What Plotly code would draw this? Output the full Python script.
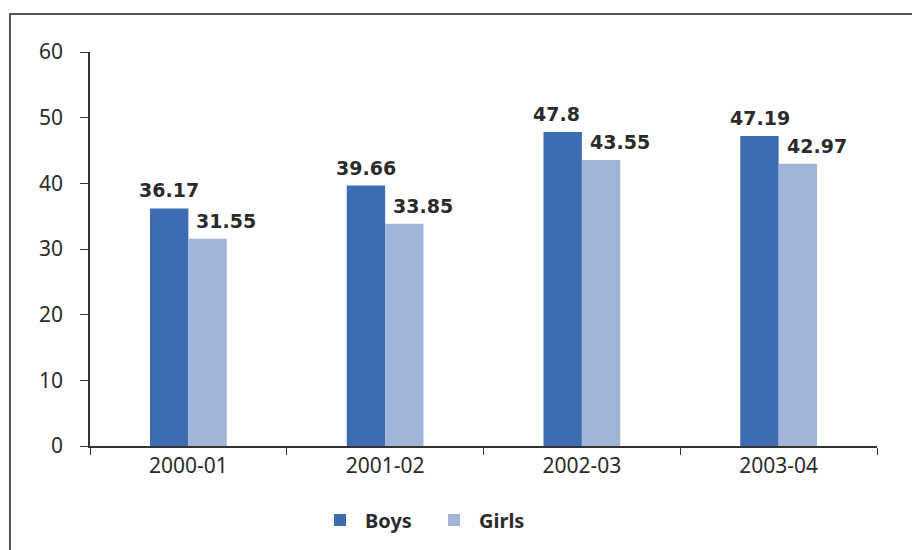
import plotly.graph_objects as go

categories = ["2000-01", "2001-02", "2002-03", "2003-04"]
boys = [36.17, 39.66, 47.8, 47.19]
girls = [31.55, 33.85, 43.55, 42.97]
y_ticks = [0, 10, 20, 30, 40, 50, 60]

BOYS_C = "#3D6CB1"
GIRLS_C = "#A0B5D8"
TXT = "#2b2b2b"

fig = go.Figure()
fig.add_trace(go.Bar(name="<b>Boys</b>", x=categories, y=boys, marker=dict(color=BOYS_C, line=dict(width=0))))
fig.add_trace(go.Bar(name="<b>Girls</b>", x=categories, y=girls, marker=dict(color=GIRLS_C, line=dict(width=0))))

annotations = []
for c, b, g in zip(categories, boys, girls):
    annotations.append(dict(x=c, y=b, xref="x", yref="y", text=f"<b>{b:g}</b>", showarrow=False,
                            xanchor="left", yanchor="middle", xshift=-51, yshift=18,
                            font=dict(family="DejaVu Sans", size=19, color=TXT)))
    annotations.append(dict(x=c, y=g, xref="x", yref="y", text=f"<b>{g:g}</b>", showarrow=False,
                            xanchor="left", yanchor="middle", xshift=6, yshift=18,
                            font=dict(family="DejaVu Sans", size=19, color=TXT)))

fig.update_layout(
    width=920, height=550,
    margin=dict(l=82, r=51, t=44, b=112, autoexpand=False),
    paper_bgcolor="white", plot_bgcolor="white",
    barmode="group", bargap=0.61, bargroupgap=0,
    font=dict(family="Noto Sans", size=20, color=TXT),
    showlegend=True,
    legend=dict(orientation="h", x=(307 - 82) / 787, y=-0.188, xanchor="left", yanchor="middle",
                font=dict(family="Noto Sans", size=20, color=TXT),
                itemsizing="constant", traceorder="normal", itemwidth=40,
                entrywidth=59, entrywidthmode="pixels"),
    annotations=annotations,
    shapes=[dict(type="rect", xref="paper", yref="paper",
                 x0=-0.1017, x1=1.07, y0=-0.29, y1=1.0964,
                 line=dict(color="#555555", width=2), fillcolor="rgba(0,0,0,0)", layer="below")],
)
fig.update_xaxes(type="category", showline=True, linecolor="#333333", linewidth=1.5, ticks="outside", ticklen=7,
                 tickcolor="#333333", tickson="boundaries", showgrid=False, automargin=False,
                 tickfont=dict(family="Noto Sans", size=21, color=TXT))
fig.update_yaxes(range=[0, 60], tickvals=y_ticks, showline=True, linecolor="#333333", linewidth=1.5,
                 ticks="outside", ticklen=8, tickcolor="#333333", showgrid=False, zeroline=False,
                 automargin=False,
                 tickfont=dict(family="Noto Sans", size=21, color=TXT), ticklabelstandoff=13)

fig.write_html("out.html")
